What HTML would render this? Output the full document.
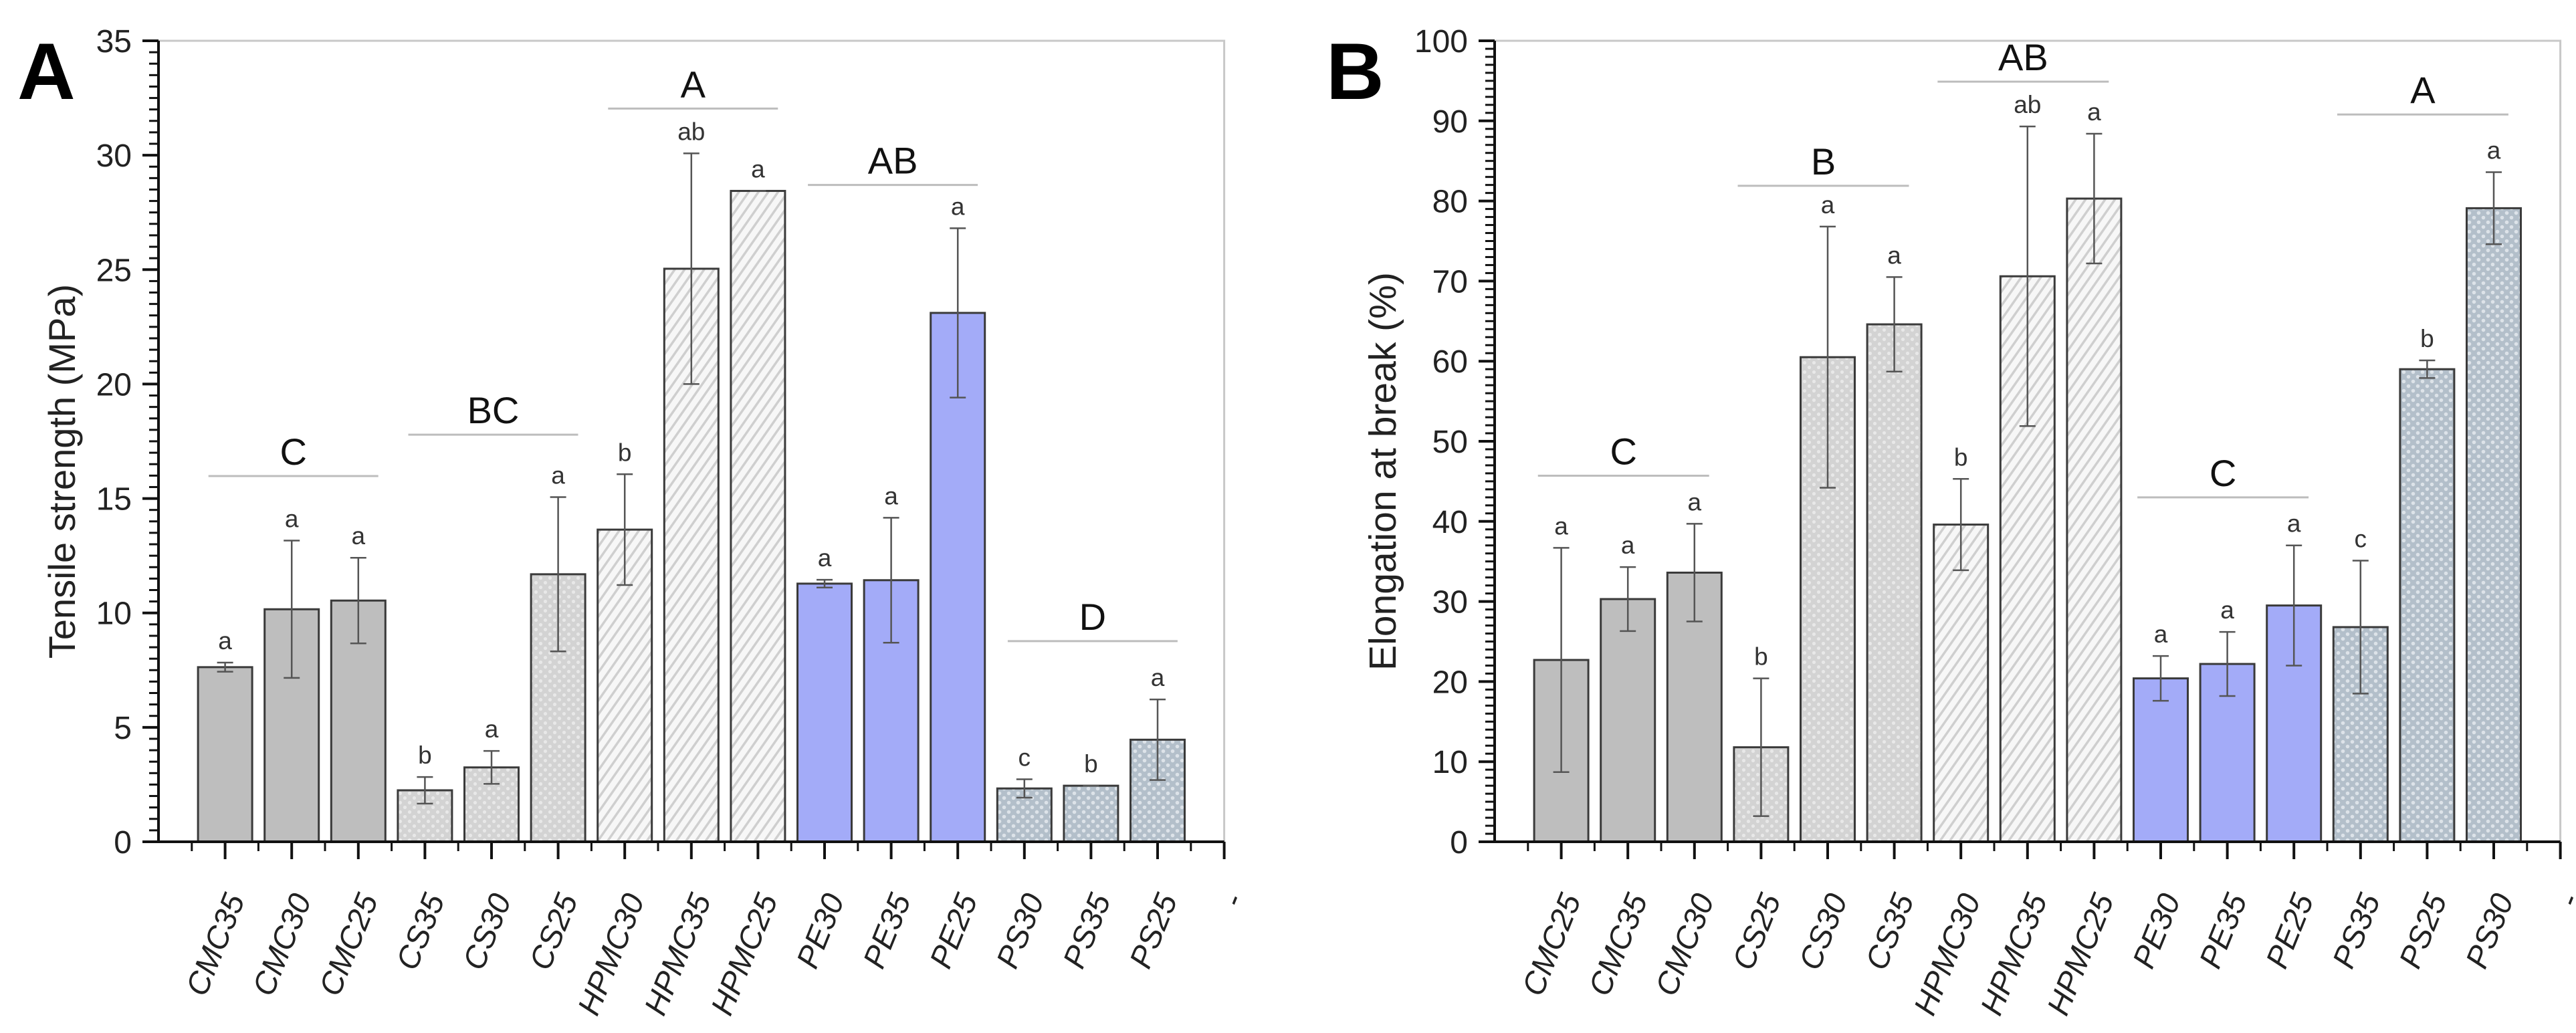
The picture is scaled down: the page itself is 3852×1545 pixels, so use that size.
<!DOCTYPE html>
<html><head><meta charset="utf-8"><style>
html,body{margin:0;padding:0;background:#fff;}
svg{display:block;font-family:"Liberation Sans",Arial,sans-serif;}
</style></head><body>
<svg id="chart" width="3852" height="1545" viewBox="0 0 3852 1545" xmlns="http://www.w3.org/2000/svg">
<defs>
<pattern id="pCS" width="14" height="14" patternUnits="userSpaceOnUse"><rect width="14" height="14" fill="#d3d3d3"/><circle cx="3.5" cy="3.5" r="2.6" fill="#e8e8e8"/><circle cx="10.5" cy="10.5" r="2.6" fill="#e8e8e8"/></pattern>
<pattern id="pHP" width="12" height="12" patternUnits="userSpaceOnUse" patternTransform="rotate(35)"><rect width="12" height="12" fill="#f7f7f7"/><rect width="3.5" height="12" fill="#cfcfcf"/></pattern>
<pattern id="pPS" width="14" height="14" patternUnits="userSpaceOnUse"><rect width="14" height="14" fill="#b3bfca"/><circle cx="3.5" cy="3.5" r="2.8" fill="#dde3e9"/><circle cx="10.5" cy="10.5" r="2.8" fill="#dde3e9"/></pattern>
</defs>
<g id="panelA"></g>
<g id="panelB"></g>
</svg>
<script>
// Panel A data
const catsA = ["CMC35","CMC30","CMC25","CS35","CS30","CS25","HPMC30","HPMC35","HPMC25","PE30","PE35","PE25","PS30","PS35","PS25"];
const valsA = [7.63,10.16,10.54,2.25,3.25,11.69,13.64,25.04,28.44,11.28,11.43,23.11,2.33,2.45,4.46];
const errA = [0.2,3.0,1.87,0.58,0.72,3.37,2.42,5.04,0,0.17,2.73,3.7,0.4,0,1.76];
const lettersA = ["a","a","a","b","a","a","b","ab","a","a","a","a","c","b","a"];
const groupNamesA = ["C","BC","A","AB","D"];
const groupFirstA = [0,3,6,9,12];
const groupLastA = [2,5,8,11,14];
const groupLevelA = [15.98,17.79,32.04,28.7,8.77];
const ticksA = [0,5,10,15,20,25,30,35];
// Panel B data
const catsB = ["CMC25","CMC35","CMC30","CS25","CS30","CS35","HPMC30","HPMC35","HPMC25","PE30","PE35","PE25","PS35","PS25","PS30"];
const valsB = [22.7,30.3,33.6,11.8,60.5,64.6,39.6,70.6,80.3,20.4,22.2,29.5,26.8,59.0,79.1];
const errB = [14,4,6.1,8.6,16.3,5.9,5.7,18.7,8.1,2.8,4.0,7.5,8.3,1.1,4.5];
const lettersB = ["a","a","a","b","a","a","b","ab","a","a","a","a","c","b","a"];
const groupNamesB = ["C","B","AB","C","A"];
const groupFirstB = [0,3,6,9,12];
const groupLastB = [2,5,8,11,14];
const groupLevelB = [45.7,81.9,94.9,43.0,90.8];
const ticksB = [0,10,20,30,40,50,60,70,80,90,100];

const NS="http://www.w3.org/2000/svg";
function mk(parent,tag,attrs,text){const e=document.createElementNS(NS,tag);for(const k in attrs)e.setAttribute(k,attrs[k]);if(text!==undefined)e.textContent=text;parent.appendChild(e);return e;}
const fills=["#bebebe","#bebebe","#bebebe","url(#pCS)","url(#pCS)","url(#pCS)","url(#pHP)","url(#pHP)","url(#pHP)","#a3abf8","#a3abf8","#a3abf8","url(#pPS)","url(#pPS)","url(#pPS)"];

function drawPanel(g,o){
  const x0=o.x0, step=99.6, yTop=61, yBot=1259;
  const xs=i=>x0+(i+1)*step;
  const ys=v=>yBot-(v/o.ymax)*(yBot-yTop);
  const xEnd=x0+16*step;
  let f=mk(g,"path",{d:`M${x0} ${yTop} H${xEnd} V${yBot}`,fill:"none",stroke:"#c8c8c8","stroke-width":3});
  
  
  let pl=mk(g,"text",{x:o.letterX,y:148,"font-size":120,"font-weight":"bold",fill:"#000"},o.letter);
  
  
  let yt=mk(g,"text",{x:o.titleX,y:705,"font-size":o.titleSize,fill:"#222","text-anchor":"middle",transform:`rotate(-90 ${o.titleX} 705)`},o.title);
  
  
  for(let i=0;i<o.vals.length;i++){
    const cx=xs(i), top=ys(o.vals[i]);
    let r=mk(g,"rect",{x:cx-40.5,y:top,width:81,height:yBot-top,fill:fills[i],stroke:"#3a3a3a","stroke-width":3});
    
    
    const et=ys(o.vals[i]+o.err[i]), eb=ys(o.vals[i]-o.err[i]);
    let eg=mk(g,"path",{d:`M${cx} ${et} V${eb} M${cx-12} ${et} H${cx+12} M${cx-12} ${eb} H${cx+12}`,stroke:"#555","stroke-width":2.5,fill:"none"});
    
    
    let lt=mk(g,"text",{x:cx,y:et-20,"font-size":37,fill:"#333","text-anchor":"middle"},o.letters[i]);
    
    
  }
  let ya=mk(g,"line",{x1:x0,y1:yTop,x2:x0,y2:yBot+2,stroke:"#111","stroke-width":4});
  
  
  let xa=mk(g,"line",{x1:x0-24,y1:yBot,x2:xEnd,y2:yBot,stroke:"#111","stroke-width":4});
  
  
  const tStep=o.ticks[1]-o.ticks[0];
  for(let k=0;k<o.ticks.length;k++){
    const y=ys(o.ticks[k]);
    mk(g,"line",{x1:x0-24,y1:y,x2:x0,y2:y,stroke:"#111","stroke-width":4});
    let tl=mk(g,"text",{x:x0-40,y:y+17,"font-size":48,fill:"#222","text-anchor":"end"},o.ticks[k]);
    
    
    if(k<o.ticks.length-1){for(let m=1;m<10;m++){const ym=ys(o.ticks[k]+m*tStep/10);mk(g,"line",{x1:x0-14,y1:ym,x2:x0,y2:ym,stroke:"#111","stroke-width":3});}}
  }
  for(let i=0;i<16;i++){
    const x=xs(i);
    mk(g,"line",{x1:x,y1:yBot,x2:x,y2:yBot+26,stroke:"#111","stroke-width":4});
    mk(g,"line",{x1:x-step/2,y1:yBot,x2:x-step/2,y2:yBot+14,stroke:"#111","stroke-width":3});
    const lbl=i<15?o.cats[i]:"-";
    let xl=mk(g,"text",{x:x+30,y:1345,"font-size":47,"font-style":"italic",fill:"#222","text-anchor":"end",transform:`rotate(-68 ${x+30} 1345)`},lbl);
    
    
  }
  for(let j=0;j<o.gNames.length;j++){
    const x1=xs(o.gFirst[j])+o.gOff[0]*step, x2=xs(o.gLast[j])+o.gOff[1]*step, y=ys(o.gLevel[j]);
    let gl=mk(g,"line",{x1:x1,y1:y,x2:x2,y2:y,stroke:"#bdbdbd","stroke-width":3});
    
    
    let gt=mk(g,"text",{x:(x1+x2)/2,y:y-17,"font-size":56,fill:"#111","text-anchor":"middle"},o.gNames[j]);
    
    
  }
}
drawPanel(document.getElementById("panelA"),{x0:237,ymax:35,ticks:ticksA,vals:valsA,err:errA,letters:lettersA,cats:catsA,gNames:groupNamesA,gFirst:groupFirstA,gLast:groupLastA,gLevel:groupLevelA,gOff:[-0.25,0.3],letter:"A",letterX:26,title:"Tensile strength (MPa)",titleX:112,titleSize:56});
drawPanel(document.getElementById("panelB"),{x0:2235,ymax:100,ticks:ticksB,vals:valsB,err:errB,letters:lettersB,cats:catsB,gNames:groupNamesB,gFirst:groupFirstB,gLast:groupLastB,gLevel:groupLevelB,gOff:[-0.35,0.22],letter:"B",letterX:1983,title:"Elongation at break (%)",titleX:2087,titleSize:57});
</script>
</body></html>
